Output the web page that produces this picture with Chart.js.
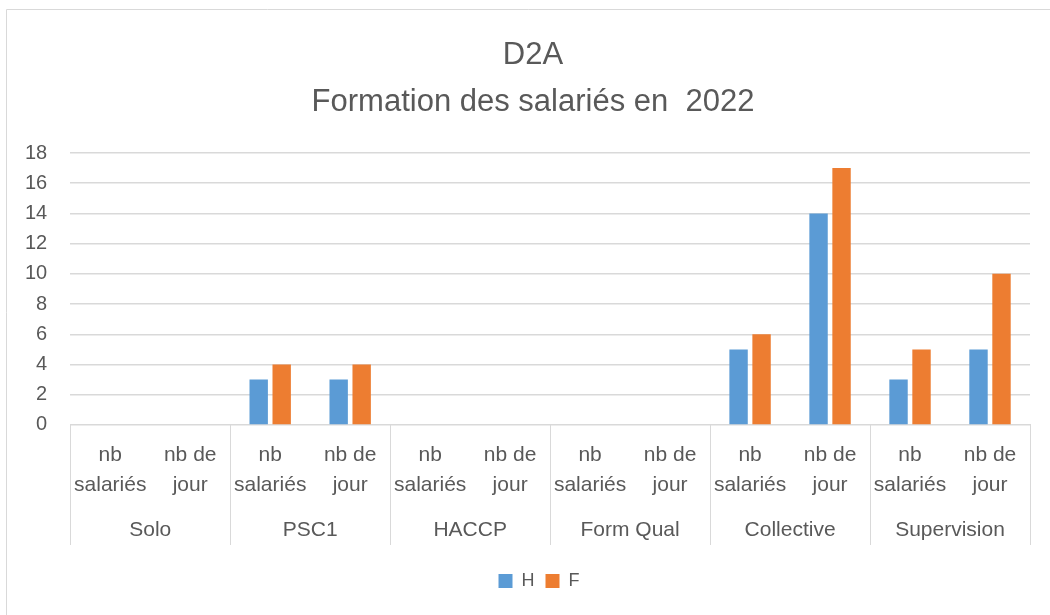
<!DOCTYPE html>
<html>
<head>
<meta charset="utf-8">
<script src="https://cdn.jsdelivr.net/npm/chart.js@4/dist/chart.umd.min.js"></script>
<style>
  html, body { margin: 0; padding: 0; background: #fff; }
  #wrap { width: 1050px; height: 615px; position: relative; }
</style>
</head>
<body>
<div id="wrap"><canvas id="c" width="1050" height="615"></canvas></div>
<script>
const titleLines = ['D2A', 'Formation des salariés en  2022'];
const groups = ['Solo', 'PSC1', 'HACCP', 'Form Qual', 'Collective', 'Supervision'];
const subLabels = [['nb', 'salariés'], ['nb de', 'jour']];
const seriesNames = ['H', 'F'];
const valuesH = [0, 0, 3, 3, 0, 0, 0, 0, 5, 14, 3, 5];
const valuesF = [0, 0, 4, 4, 0, 0, 0, 0, 6, 17, 5, 10];
const yTicks = [0, 2, 4, 6, 8, 10, 12, 14, 16, 18];

const labels = [];
groups.forEach(() => subLabels.forEach(s => labels.push(s)));

const FONT = "'Liberation Sans', 'DejaVu Sans', sans-serif";
const TXT = '#595959';
const LINE = '#d9d9d9';

const groupLines = {
  id: 'groupLines',
  afterLayout(chart) {
    if (chart.legend) { chart.legend.left += 46; }
    if (chart.titleBlock) { chart.titleBlock.left += 34; }
  },
  afterDraw(chart) {
    const ctx = chart.ctx;
    const x = chart.scales.x;
    const x2 = chart.scales.x2;
    const ca = chart.chartArea;
    const step = (x.right - x.left) / labels.length;
    const sepBottom = x2.top + 38;
    ctx.save();
    ctx.strokeStyle = LINE;
    ctx.lineWidth = 1;
    for (let g = 0; g <= groups.length; g++) {
      const px = Math.round(x.left + g * subLabels.length * step) + 0.5;
      ctx.beginPath();
      ctx.moveTo(px, ca.bottom);
      ctx.lineTo(px, sepBottom);
      ctx.stroke();
    }
    // outer frame
    ctx.beginPath();
    ctx.moveTo(6.5, 615);
    ctx.lineTo(6.5, 9.5);
    ctx.lineTo(1050, 9.5);
    ctx.stroke();
    ctx.restore();
  }
};

new Chart(document.getElementById('c'), {
  type: 'bar',
  data: {
    labels: labels,
    datasets: [
      { label: seriesNames[0], data: valuesH, backgroundColor: '#5B9BD5', borderWidth: 0 },
      { label: seriesNames[1], data: valuesF, backgroundColor: '#ED7D31', borderWidth: 0 }
    ]
  },
  options: {
    responsive: false,
    animation: false,
    layout: { padding: { left: 2, right: 20, top: 20, bottom: 15 } },
    datasets: { bar: { categoryPercentage: 0.575, barPercentage: 0.8 } },
    plugins: {
      title: {
        display: true,
        text: titleLines,
        color: TXT,
        font: { family: FONT, size: 31, weight: 'normal', lineHeight: 1.516 },
        padding: { top: 12, bottom: 27 }
      },
      legend: {
        position: 'bottom',
        labels: {
          color: TXT,
          font: { family: FONT, size: 18 },
          boxWidth: 14, boxHeight: 14,
          padding: 11
        }
      },
      tooltip: { enabled: false }
    },
    scales: {
      x: {
        grid: { display: false, drawOnChartArea: false, drawTicks: false },
        border: { display: true, color: LINE, width: 1 },
        afterFit(axis) { axis.height -= 8; },
        ticks: { color: TXT, font: { family: FONT, size: 21, lineHeight: 1.43 }, padding: 15, maxRotation: 0, autoSkip: false }
      },
      x2: {
        type: 'category',
        labels: groups,
        offset: true,
        position: 'bottom',
        grid: { display: false },
        border: { display: false },
        afterFit(axis) { axis.height += 16; },
        ticks: { color: TXT, font: { family: FONT, size: 21 }, padding: 2.4, maxRotation: 0, autoSkip: false }
      },
      y: {
        min: 0, max: 18,
        afterBuildTicks(axis) { axis.ticks = yTicks.map(v => ({ value: v })); },
        grid: { color: LINE, lineWidth: 1.5, drawTicks: false },
        border: { display: false },
        ticks: { color: TXT, font: { family: FONT, size: 20 }, padding: 23 }
      }
    }
  },
  plugins: [groupLines]
});
</script>
</body>
</html>
